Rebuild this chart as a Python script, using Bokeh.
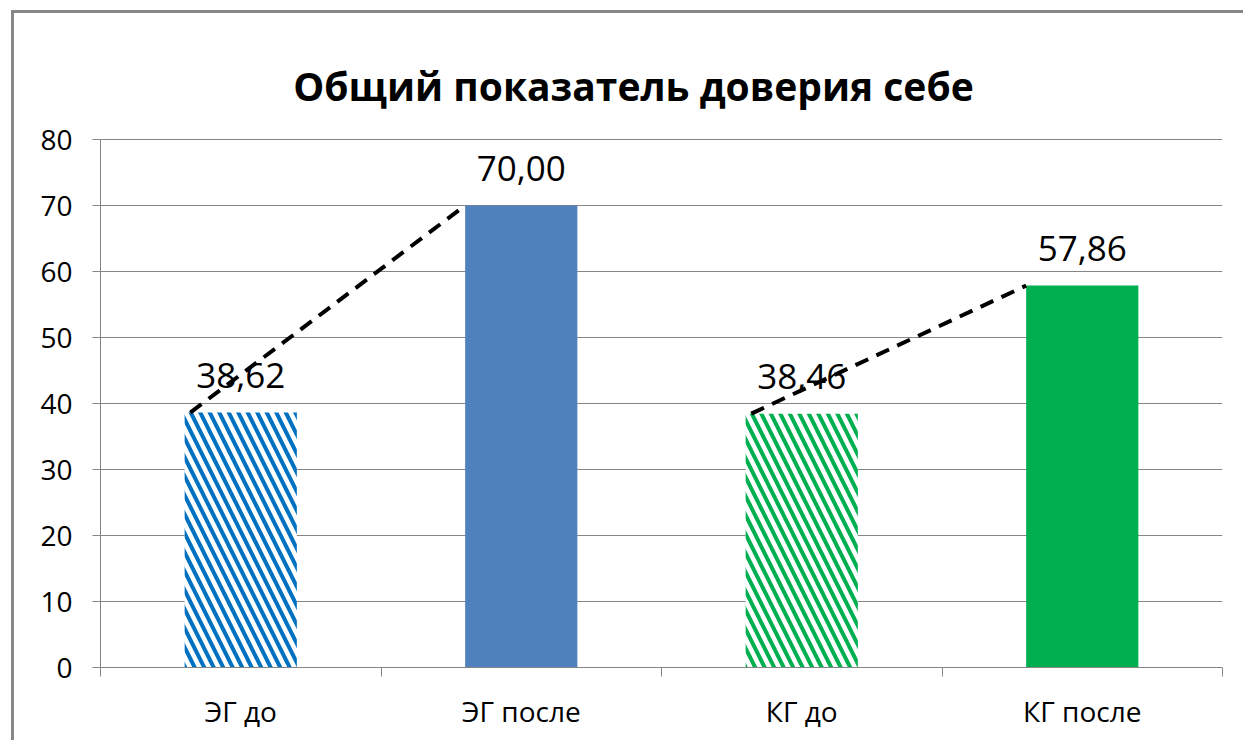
from bokeh.plotting import figure
from bokeh.models import (ColumnDataSource, Range1d, LinearAxis,
                          FixedTicker, LabelSet, Label, Grid)
from bokeh.core.properties import value
from bokeh.embed import file_html
from bokeh.resources import INLINE

# ---- data ----
categories = ["ЭГ до", "ЭГ после", "КГ до", "КГ после"]
values = [38.62, 70.00, 38.46, 57.86]
y_ticks = [0, 10, 20, 30, 40, 50, 60, 70, 80]
title_text = "Общий показатель доверия себе"
pairs = [(0, 1), (2, 3)]

# ---- styles / layout ----
fill_colors = ["#FFFFFF", "#4F81BD", "#FFFFFF", "#00B050"]
hatch_colors = ["#0070C0", "#4F81BD", "#00B050", "#00B050"]
hatch_patterns = ["\\", " ", "\\", " "]
FONT = "Open Sans"
GRAY = "#868686"
BAR_W = 0.4
FRAME_H = 654      # frame spans the full height above the x axis (title lives inside it)
AXIS_H = 528       # pixels used by the 0..80 value axis

n = len(categories)
centers = [i + 0.5 for i in range(n)]
edges = [float(i) for i in range(n + 1)]
labels = [f"{v:.2f}".replace(".", ",") for v in values]
src = ColumnDataSource(dict(x=centers, val=values, label=labels,
                            fill=fill_colors, hcol=hatch_colors, hpat=hatch_patterns))

y_max = max(y_ticks)
p = figure(x_range=Range1d(0, n), y_range=Range1d(0, y_max * FRAME_H / AXIS_H),
           width=1232, height=730, output_backend="svg", toolbar_location=None,
           x_axis_location=None, y_axis_location=None,
           min_border_left=86, min_border_right=24, min_border_top=0, min_border_bottom=76)
p.styles = {"margin-left": "11px", "margin-top": "10px",
            "border-left": "3px solid #878787", "border-top": "3px solid #878787"}
p.outline_line_color = None
p.background_fill_color = "white"
p.border_fill_color = "white"
for g in p.grid:
    g.visible = False

# chart title (inside the frame area, screen units from the frame's bottom-left)
p.add_layout(Label(x=533, y=582, x_units="screen", y_units="screen", text=title_text,
                   text_align="center", text_baseline="alphabetic", text_font=FONT,
                   text_font_size="39px", text_font_style="bold", text_color="black"))

# y axis + grid
yax = LinearAxis(ticker=FixedTicker(ticks=y_ticks), bounds=(0, y_max), axis_line_color=GRAY,
                 major_tick_line_color=GRAY, major_tick_out=8, major_tick_in=0,
                 minor_tick_line_color=None, major_label_text_font=FONT,
                 major_label_text_font_size="28px", major_label_text_color="black",
                 major_label_standoff=20)
p.add_layout(yax, "left")
p.add_layout(Grid(dimension=1, ticker=yax.ticker, grid_line_color=GRAY, grid_line_width=1))

# x axis: labels at category centres, tick marks at category boundaries
xax = LinearAxis(ticker=FixedTicker(ticks=centers, minor_ticks=edges),
                 major_label_overrides={c: lab for c, lab in zip(centers, categories)},
                 axis_line_color=GRAY, major_tick_line_color=None,
                 minor_tick_line_color=GRAY, minor_tick_out=9, minor_tick_in=0,
                 major_tick_out=0, major_tick_in=0,
                 major_label_text_font=FONT, major_label_text_font_size="28px",
                 major_label_text_color="black", major_label_standoff=15)
p.add_layout(xax, "below")

# bars
p.vbar(x="x", top="val", width=BAR_W, source=src, fill_color="fill",
       hatch_color="hcol", hatch_pattern="hpat", hatch_scale=19, hatch_weight=4,
       line_color=None)

# data labels
p.add_layout(LabelSet(x="x", y="val", text="label", source=src, text_align="center",
                      text_baseline="alphabetic", y_offset=25, text_font=value(FONT),
                      text_font_size=value("35px"), text_color="black"))

# dashed connectors (from top-left corner of one bar to top-left corner of the next)
seg = ColumnDataSource(dict(
    x0=[centers[a] - BAR_W / 2 + 0.02 for a, b in pairs], y0=[values[a] for a, b in pairs],
    x1=[centers[b] - BAR_W / 2 for a, b in pairs], y1=[values[b] for a, b in pairs]))
p.segment(x0="x0", y0="y0", x1="x1", y1="y1", source=seg,
          line_color="black", line_width=4, line_dash="14 9", level="overlay")

open("out.html", "w").write(file_html(p, INLINE))
